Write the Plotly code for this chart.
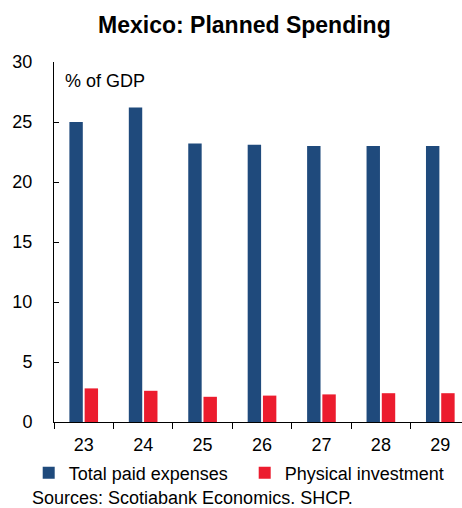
import plotly.graph_objects as go

years = ["23", "24", "25", "26", "27", "28", "29"]
total_paid = [25.0, 26.2, 23.2, 23.1, 23.0, 23.0, 23.0]
physical_inv = [2.8, 2.6, 2.1, 2.2, 2.3, 2.4, 2.4]
y_ticks = [0, 5, 10, 15, 20, 25, 30]

FONT = "Liberation Sans, Arial, sans-serif"
BLUE = "#1F4A7C"
RED = "#EC1C2E"

fig = go.Figure()
fig.add_trace(go.Bar(x=years, y=total_paid, name="Total paid expenses",
                     marker=dict(color=BLUE, line=dict(width=0))))
fig.add_trace(go.Bar(x=years, y=physical_inv, name="Physical investment",
                     marker=dict(color=RED, line=dict(width=0))))

fig.update_layout(
    width=462, height=508,
    margin=dict(l=54, r=0, t=62, b=86, autoexpand=False),
    paper_bgcolor="white", plot_bgcolor="white",
    font=dict(family=FONT, size=18, color="black"),
    barmode="group", bargap=0.487, bargroupgap=0.12,
    title=dict(text="<b>Mexico: Planned Spending</b>", x=0.529, xanchor="center",
               y=1 - 25 / 508, yanchor="middle", yref="container",
               font=dict(family=FONT, size=23, color="black")),
    showlegend=True,
    legend=dict(orientation="h", x=-0.062, xanchor="left", y=-0.1417, yanchor="middle",
                font=dict(size=18), bgcolor="rgba(0,0,0,0)", borderwidth=0,
                traceorder="normal", entrywidth=171, entrywidthmode="pixels",
                itemwidth=30),
)

fig.update_xaxes(
    type="category", range=[-0.5, 6.365], automargin=False,
    showline=True, linecolor="black", linewidth=1,
    ticks="outside", tickson="boundaries", ticklen=6, tickcolor="black",
    showgrid=False, zeroline=False, ticklabelstandoff=6,
    tickfont=dict(size=18),
)
fig.update_yaxes(
    range=[0, 30], tickvals=y_ticks, automargin=False,
    showline=True, linecolor="black", linewidth=1,
    ticks="inside", ticklen=5, tickcolor="black",
    showgrid=False, zeroline=False, ticklabelstandoff=17,
    tickfont=dict(size=18),
)

fig.add_annotation(text="% of GDP", xref="paper", yref="y", x=0.022, y=28.4,
                   xanchor="left", yanchor="middle", showarrow=False,
                   font=dict(size=18))
fig.add_annotation(text="Sources: Scotiabank Economics. SHCP.", xref="paper", yref="paper",
                   x=-0.0588, y=-0.2105, xanchor="left", yanchor="middle",
                   showarrow=False, font=dict(size=18))

fig.write_html("out.html", config={"displayModeBar": False},
               post_script="document.body.style.margin='0';")
